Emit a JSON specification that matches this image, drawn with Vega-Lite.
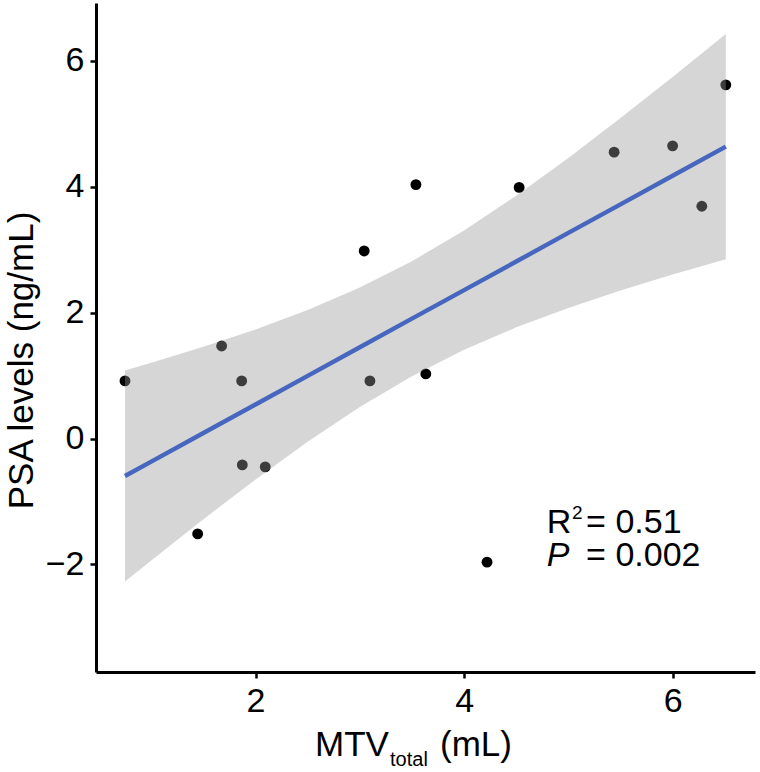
{
  "$schema": "https://vega.github.io/schema/vega-lite/v6.json",
  "autosize": {"type": "none"},
  "width": 659,
  "height": 669,
  "padding": {"left": 96, "top": 3, "right": 5, "bottom": 100},
  "background": "white",
  "config": {
    "view": {"stroke": null},
    "font": "Liberation Sans",
    "axis": {
      "grid": false,
      "domainColor": "black",
      "domainWidth": 3,
      "tickColor": "black",
      "tickWidth": 2.5,
      "tickSize": 6,
      "labelFont": "Liberation Sans",
      "labelFontSize": 34,
      "labelColor": "black",
      "labelPadding": 6,
      "titleFont": "Liberation Sans",
      "titleFontSize": 35,
      "titleFontWeight": "normal",
      "titleColor": "black"
    }
  },
  "datasets": {
    "pts": [
      {"mtv": 0.748, "psa": 0.915},
      {"mtv": 1.675, "psa": 1.47},
      {"mtv": 1.867, "psa": 0.915},
      {"mtv": 3.042, "psa": 2.98},
      {"mtv": 3.097, "psa": 0.915},
      {"mtv": 1.445, "psa": -1.515},
      {"mtv": 1.873, "psa": -0.42},
      {"mtv": 2.093, "psa": -0.45},
      {"mtv": 3.538, "psa": 4.035},
      {"mtv": 4.528, "psa": 3.99},
      {"mtv": 5.439, "psa": 4.55},
      {"mtv": 6.0, "psa": 4.65},
      {"mtv": 6.28, "psa": 3.69},
      {"mtv": 6.51, "psa": 5.62},
      {"mtv": 3.633, "psa": 1.026},
      {"mtv": 4.22, "psa": -1.965}
    ],
    "band": [
      {"mtv": 0.748, "fit": -0.596, "lo": -2.272, "hi": 1.080},
      {"mtv": 1.0, "fit": -0.367, "lo": -1.937, "hi": 1.203},
      {"mtv": 1.5, "fit": 0.087, "lo": -1.283, "hi": 1.457},
      {"mtv": 2.0, "fit": 0.541, "lo": -0.651, "hi": 1.733},
      {"mtv": 2.5, "fit": 0.995, "lo": -0.051, "hi": 2.041},
      {"mtv": 3.0, "fit": 1.450, "lo": 0.501, "hi": 2.399},
      {"mtv": 3.5, "fit": 1.904, "lo": 0.990, "hi": 2.817},
      {"mtv": 4.0, "fit": 2.358, "lo": 1.409, "hi": 3.307},
      {"mtv": 4.5, "fit": 2.812, "lo": 1.766, "hi": 3.858},
      {"mtv": 5.0, "fit": 3.267, "lo": 2.075, "hi": 4.459},
      {"mtv": 5.5, "fit": 3.721, "lo": 2.351, "hi": 5.091},
      {"mtv": 6.0, "fit": 4.175, "lo": 2.605, "hi": 5.745},
      {"mtv": 6.51, "fit": 4.638, "lo": 2.849, "hi": 6.427}
    ],
    "stats": [
      {"label": "R", "mtv": 4.792, "psa": -1.497},
      {"label": "= 0.51", "mtv": 5.17, "psa": -1.497},
      {"label": "= 0.002", "mtv": 5.17, "psa": -2.026}
    ],
    "statSup": [
      {"label": "2", "mtv": 5.035, "psa": -1.28}
    ],
    "statP": [
      {"label": "P", "mtv": 4.792, "psa": -2.026}
    ],
    "xtitle": [
      {"label": "MTV", "mtv": 2.57, "psa": -5.04},
      {"label": "(mL)", "mtv": 3.769, "psa": -5.04}
    ],
    "xsub": [
      {"label": "total", "mtv": 3.29, "psa": -5.21}
    ]
  },
  "encoding": {
    "x": {
      "field": "mtv",
      "type": "quantitative",
      "scale": {"domain": [0.47, 6.79], "nice": false, "zero": false},
      "axis": {"values": [2, 4, 6], "title": null}
    },
    "y": {
      "field": "psa",
      "type": "quantitative",
      "scale": {"domain": [-3.71, 6.92], "nice": false, "zero": false},
      "axis": {
        "values": [-2, 0, 2, 4, 6],
        "title": "PSA levels (ng/mL)",
        "titleX": -64,
        "titleY": 357,
        "titleAngle": 270,
        "titleAlign": "center",
        "titleBaseline": "alphabetic"
      }
    }
  },
  "layer": [
    {
      "data": {"name": "pts"},
      "mark": {"type": "point", "filled": true, "color": "black", "opacity": 1, "size": 118}
    },
    {
      "data": {"name": "band"},
      "mark": {"type": "area", "color": "#999999", "opacity": 0.4},
      "encoding": {
        "y": {"field": "lo", "type": "quantitative"},
        "y2": {"field": "hi"}
      }
    },
    {
      "data": {"name": "band"},
      "mark": {"type": "line", "color": "#4767BF", "strokeWidth": 4.4},
      "encoding": {
        "y": {"field": "fit", "type": "quantitative"}
      }
    },
    {
      "data": {"name": "stats"},
      "mark": {"type": "text", "fontSize": 34, "align": "left", "baseline": "alphabetic", "color": "black", "font": "Liberation Sans"},
      "encoding": {"text": {"field": "label"}}
    },
    {
      "data": {"name": "statSup"},
      "mark": {"type": "text", "fontSize": 19, "align": "left", "baseline": "alphabetic", "color": "black", "font": "Liberation Sans"},
      "encoding": {"text": {"field": "label"}}
    },
    {
      "data": {"name": "statP"},
      "mark": {"type": "text", "fontSize": 34, "fontStyle": "italic", "align": "left", "baseline": "alphabetic", "color": "black", "font": "Liberation Sans"},
      "encoding": {"text": {"field": "label"}}
    },
    {
      "data": {"name": "xtitle"},
      "mark": {"type": "text", "fontSize": 35, "align": "left", "baseline": "alphabetic", "color": "black", "font": "Liberation Sans"},
      "encoding": {"text": {"field": "label"}}
    },
    {
      "data": {"name": "xsub"},
      "mark": {"type": "text", "fontSize": 20, "align": "left", "baseline": "alphabetic", "color": "black", "font": "Liberation Sans"},
      "encoding": {"text": {"field": "label"}}
    }
  ]
}
